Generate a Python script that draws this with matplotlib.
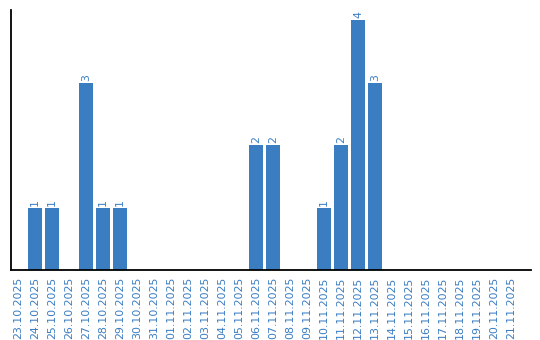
import matplotlib
matplotlib.use("Agg")
import matplotlib.pyplot as plt

dates = ["23.10.2025", "24.10.2025", "25.10.2025", "26.10.2025", "27.10.2025",
         "28.10.2025", "29.10.2025", "30.10.2025", "31.10.2025", "01.11.2025",
         "02.11.2025", "03.11.2025", "04.11.2025", "05.11.2025", "06.11.2025",
         "07.11.2025", "08.11.2025", "09.11.2025", "10.11.2025", "11.11.2025",
         "12.11.2025", "13.11.2025", "14.11.2025", "15.11.2025", "16.11.2025",
         "17.11.2025", "18.11.2025", "19.11.2025", "20.11.2025", "21.11.2025"]
counts = [0, 1, 1, 0, 3, 1, 1, 0, 0, 0,
          0, 0, 0, 0, 2, 2, 0, 0, 1, 2,
          4, 3, 0, 0, 0, 0, 0, 0, 0, 0]

blue = "#3b7dc1"
W, H = 540, 340
fig = plt.figure(figsize=(W / 100, H / 100), dpi=100)
ax = fig.add_axes([10.5 / W, 70 / H, (531 - 10.5) / W, 260 / H])

x = list(range(len(dates)))
ax.bar(x, counts, width=0.82, color=blue)
for xi, v in zip(x, counts):
    if v > 0:
        ax.text(xi, v + 0.03, str(v), rotation=90, ha="center", va="bottom",
                color=blue, fontsize=7.8)

ax.set_xlim(-0.44, 30.18)
ax.set_ylim(0, 4.16)
ax.set_xticks(x)
ax.set_xticklabels(dates, rotation=90, color=blue, fontsize=7.9)
ax.tick_params(axis="x", length=0, pad=5)
ax.set_yticks([])
for s in ["top", "right"]:
    ax.spines[s].set_visible(False)
for s in ["left", "bottom"]:
    ax.spines[s].set_linewidth(1.3)
    ax.spines[s].set_color("black")

fig.savefig("out.png", dpi=100)
